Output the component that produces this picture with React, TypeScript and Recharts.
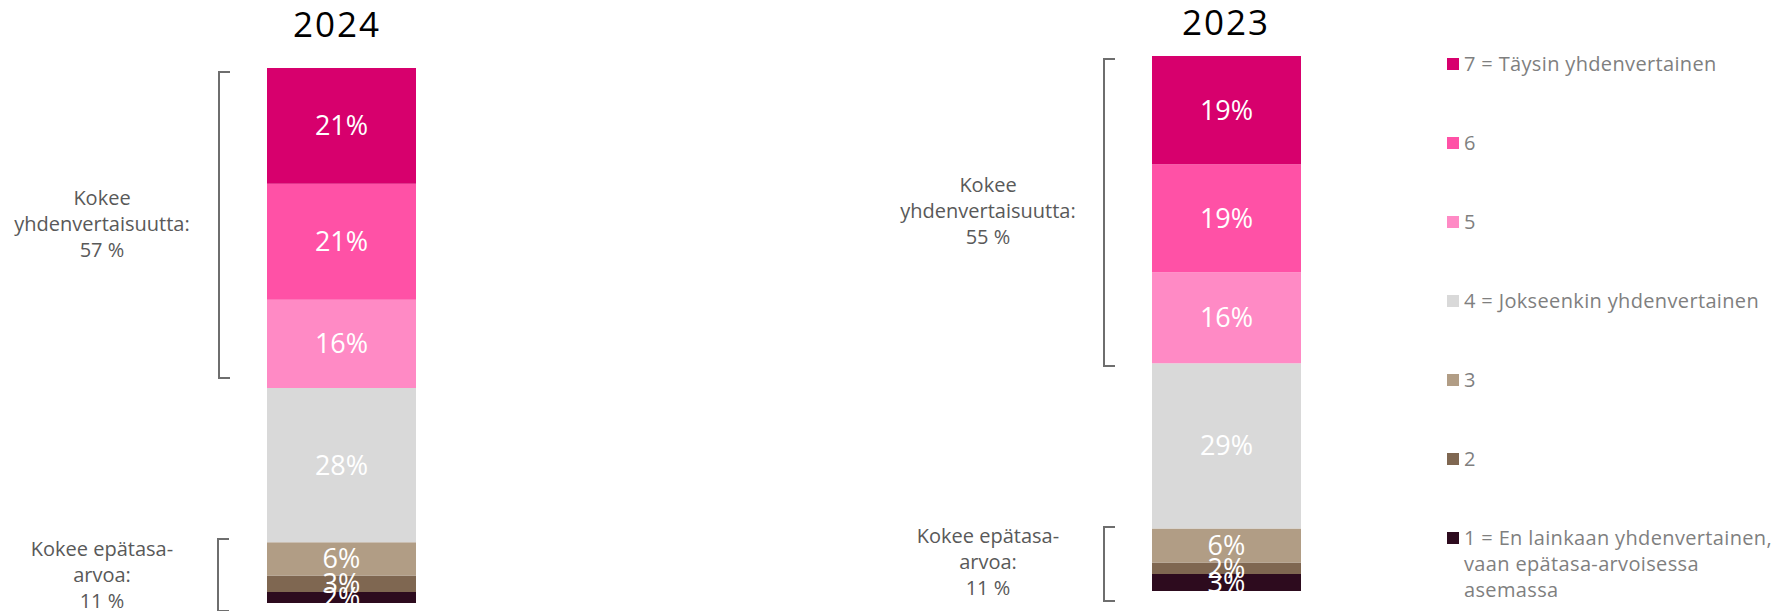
import { BarChart, Bar, XAxis, YAxis, LabelList } from 'recharts';

const years = ['2024', '2023'];
const levelKeys = ['l7', 'l6', 'l5', 'l4', 'l3', 'l2', 'l1'];
const levelNames = [
  '7 = Täysin yhdenvertainen',
  '6',
  '5',
  '4 = Jokseenkin yhdenvertainen',
  '3',
  '2',
  '1 = En lainkaan yhdenvertainen,\nvaan epätasa-arvoisessa\nasemassa',
];
const levelColors = ['#d7006d', '#ff51a6', '#ff8ac5', '#d9d9d9', '#b19d85', '#7f6751', '#2d0b1e'];
const values2024 = [21, 21, 16, 28, 6, 3, 2];
const values2023 = [19, 19, 16, 29, 6, 2, 3];
const equalLabels = ['Kokee\nyhdenvertaisuutta:\n57 %', 'Kokee\nyhdenvertaisuutta:\n55 %'];
const unequalLabels = ['Kokee epätasa-\narvoa:\n11 %', 'Kokee epätasa-\narvoa:\n11 %'];

const FONT = '"Open Sans", sans-serif';

// top of a line box so that the first baseline lands at `baseline`
const topFor = (baseline: number, fs: number, lh: number) =>
  baseline - ((lh - 1.362 * fs) / 2 + 1.069 * fs);

function toRow(year: string, values: number[]) {
  const row: any = { year };
  levelKeys.forEach((k, i) => (row[k] = values[i]));
  return row;
}

function YearBar({ year, values, left, top }: { year: string; values: number[]; left: number; top: number }) {
  const data = [toRow(year, values)];
  const bottomFirst = [...levelKeys].reverse();
  return (
    <div style={{ position: 'absolute', left, top }}>
      <BarChart width={149} height={535} data={data} margin={{ top: 0, right: 0, bottom: 0, left: 0 }} barCategoryGap={0}>
        <XAxis dataKey="year" hide />
        <YAxis hide type="number" domain={[0, 'dataMax']} />
        {bottomFirst.map((k) => {
          const i = levelKeys.indexOf(k);
          return (
            <Bar key={k} dataKey={k} name={levelNames[i]} stackId="s" fill={levelColors[i]} isAnimationActive={false}>
              <LabelList
                dataKey={k}
                position="center"
                fill="#ffffff"
                fontSize={27}
                fontFamily={FONT}
                formatter={(v: any) => `${v}%`}
              />
            </Bar>
          );
        })}
      </BarChart>
    </div>
  );
}

function Bracket({ x, top, bottom }: { x: number; top: number; bottom: number }) {
  return (
    <div
      style={{
        position: 'absolute',
        left: x - 1,
        top,
        width: 10,
        height: bottom - top - 2,
        borderLeft: '2px solid #6e6e6e',
        borderTop: '2px solid #6e6e6e',
        borderBottom: '2px solid #6e6e6e',
      }}
    />
  );
}

function SideText({ text, cx, baseline }: { text: string; cx: number; baseline: number }) {
  return (
    <div
      style={{
        position: 'absolute',
        left: cx - 110,
        width: 220,
        top: topFor(baseline, 20, 25.7),
        fontFamily: FONT,
        fontSize: 20,
        lineHeight: '25.7px',
        color: '#595959',
        textAlign: 'center',
        whiteSpace: 'pre-line',
      }}
    >
      {text}
    </div>
  );
}

function Title({ text, cx, baseline }: { text: string; cx: number; baseline: number }) {
  return (
    <div
      style={{
        position: 'absolute',
        left: cx - 100,
        width: 200,
        top: topFor(baseline, 35, 40),
        fontFamily: FONT,
        fontSize: 35,
        lineHeight: '40px',
        letterSpacing: 2,
        color: '#000000',
        textAlign: 'center',
      }}
    >
      {text}
    </div>
  );
}

function LegendBlock() {
  return (
    <div style={{ position: 'absolute', left: 1447, top: 0 }}>
      {levelNames.map((name, i) => (
        <div
          key={name}
          style={{
            position: 'absolute',
            left: 0,
            top: topFor(72 + 79 * i, 20, 26),
            display: 'flex',
            alignItems: 'flex-start',
            fontFamily: FONT,
            fontSize: 20,
            lineHeight: '26px',
            letterSpacing: 0.35,
            color: '#7f7f7f',
            whiteSpace: 'pre',
          }}
        >
          <span style={{ width: 12, height: 12, marginTop: 7, marginRight: 5, background: levelColors[i], flexShrink: 0 }} />
          <span>{name}</span>
        </div>
      ))}
    </div>
  );
}

export default function App() {
  return (
    <div style={{ position: 'absolute', left: 0, top: 0, width: 1771, height: 611, background: '#fff', overflow: 'hidden' }}>
      <Title text={years[0]} cx={337} baseline={38} />
      <Title text={years[1]} cx={1226} baseline={36} />

      <YearBar year={years[0]} values={values2024} left={267} top={68} />
      <YearBar year={years[1]} values={values2023} left={1152} top={56} />

      <Bracket x={219} top={71} bottom={377} />
      <Bracket x={218} top={538} bottom={610} />
      <Bracket x={1104} top={58} bottom={365} />
      <Bracket x={1104} top={526} bottom={600} />

      <SideText text={equalLabels[0]} cx={102} baseline={206} />
      <SideText text={unequalLabels[0]} cx={102} baseline={557} />
      <SideText text={equalLabels[1]} cx={988} baseline={193} />
      <SideText text={unequalLabels[1]} cx={988} baseline={544} />

      <LegendBlock />
    </div>
  );
}
